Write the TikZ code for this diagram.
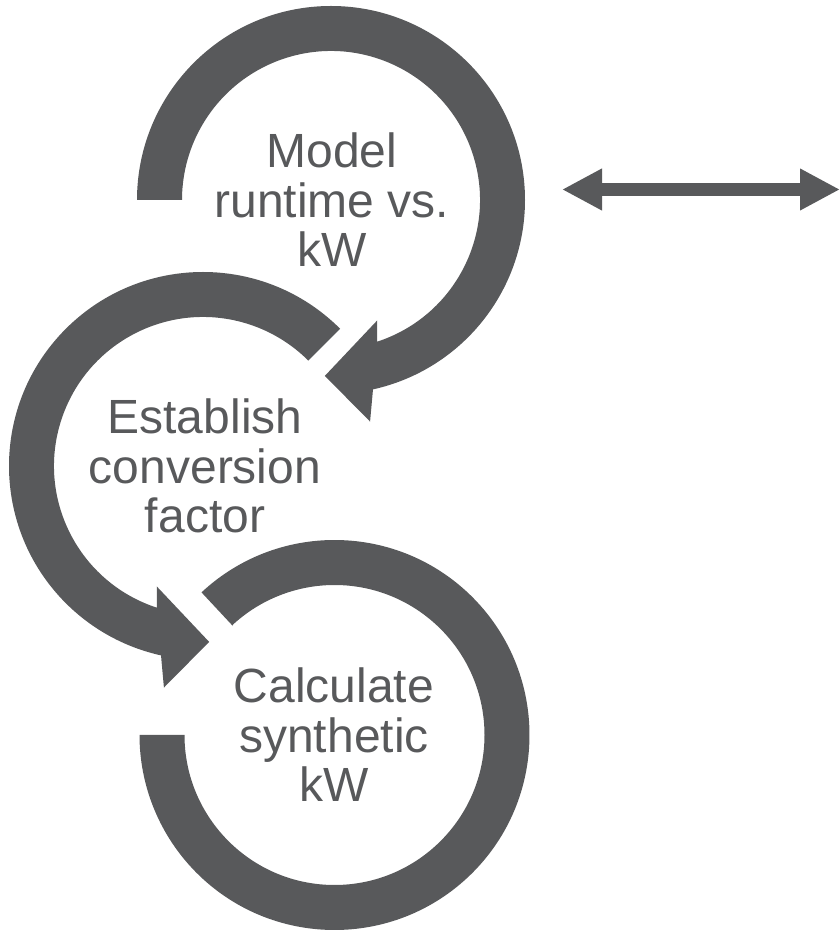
\documentclass[tikz,border=0pt]{standalone}
\usepackage{fontspec}
\setmainfont{Liberation Sans}
\usetikzlibrary{arrows.meta}
\definecolor{arcgray}{RGB}{88,89,91}
\definecolor{txtgray}{RGB}{88,89,91}
\tikzset{
  arcband/.style={fill=arcgray},
  steptext/.style={align=center, inner sep=0pt, text=txtgray, font=\fontsize{48}{49.5}\selectfont},
  dblarrow/.style={draw=arcgray, line width=13pt, {Triangle[length=40pt,width=39pt]}-{Triangle[length=40pt,width=39pt]}}
}
\begin{document}
\begin{tikzpicture}[x=1pt,y=1pt]
\useasboundingbox (0,0) rectangle (840,930);
\coordinate (c1) at (331,730);
\coordinate (c2) at (203,464);
\coordinate (c3) at (334.5,195);
% circle 1
\begin{scope}[shift={(c1)}]
\fill[arcband] (180:194) arc[start angle=180, end angle=-77.5, radius=194]
  -- (-80:225) -- (-92:176) -- (-69:129) -- (-72:149)
  arc[start angle=-72, end angle=180, radius=149] -- cycle;
\end{scope}
% circle 2
\begin{scope}[shift={(c2)}]
\fill[arcband] (45:149) -- (45:194) arc[start angle=45, end angle=257.5, radius=194]
  -- (260:225) -- (272:176) -- (249:129) -- (252:149)
  arc[start angle=252, end angle=45, radius=149] -- cycle;
\end{scope}
% circle 3
\begin{scope}[shift={(c3)}]
\fill[arcband] (133:149) -- (133:195) arc[start angle=133, end angle=-180, radius=195]
  -- (180:150) arc[start angle=-180, end angle=133, radius=150] -- cycle;
\end{scope}
\node[steptext] (t1) at (332,730) {Model\\runtime vs.\\kW};
\node[steptext] (t2) at (205,464) {Establish\\conversion\\factor};
\node[steptext] (t3) at (334,195) {Calculate\\synthetic\\kW};
\coordinate (dl) at (562,740.5);
\coordinate (dr) at (840,740.5);
\draw[dblarrow] (dl) -- (dr);
\end{tikzpicture}
\end{document}
